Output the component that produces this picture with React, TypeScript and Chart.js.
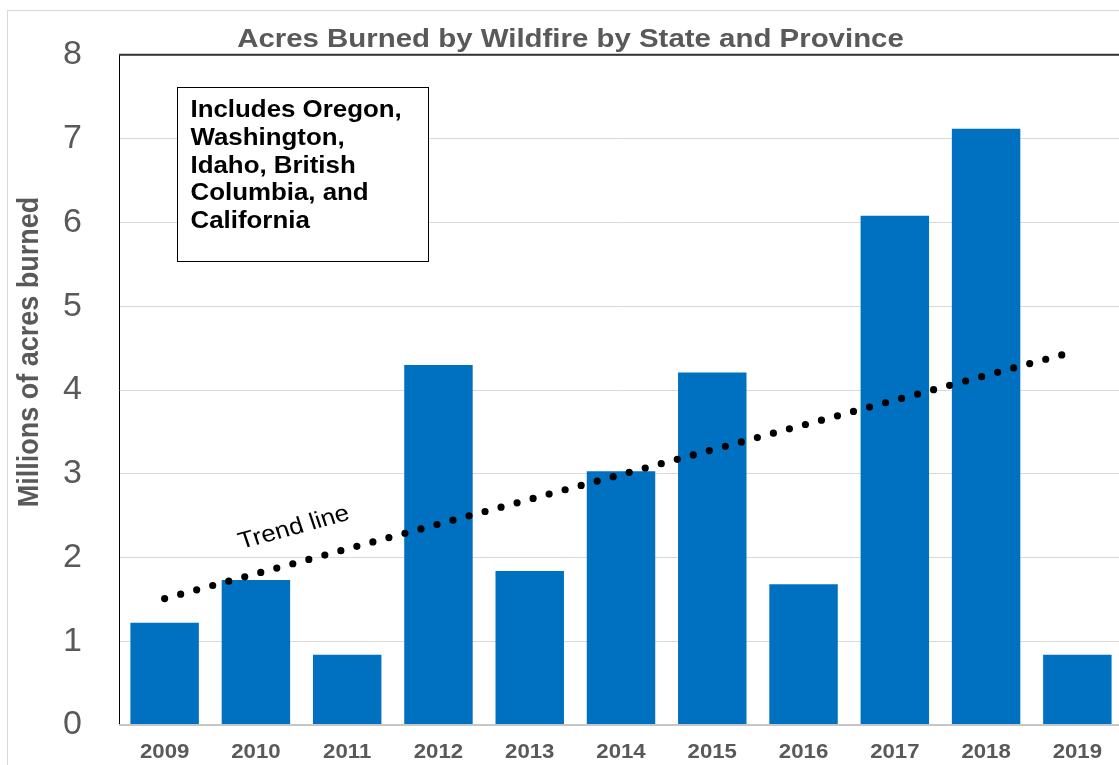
import React, { useEffect, useRef } from "react";
import { Chart, registerables } from "chart.js";

Chart.register(...registerables);

const categories = ["2009", "2010", "2011", "2012", "2013", "2014", "2015", "2016", "2017", "2018", "2019"];
const acresBurned = [1.22, 1.73, 0.84, 4.3, 1.84, 3.03, 4.21, 1.68, 6.08, 7.12, 0.84];
const trendLine = [1.51, null, null, null, null, null, null, null, null, null, 4.47];
const boxLines = ["Includes Oregon,", "Washington,", "Idaho, British", "Columbia, and", "California"];
const chartTitle = "Acres Burned by Wildfire by State and Province";
const yTitle = "Millions of acres burned";
const trendLabel = "Trend line";

const FONT = "'Liberation Sans', Arial, sans-serif";
const STRETCH = 1.11;

function stretchedText(ctx: CanvasRenderingContext2D, text: string, x: number, y: number, font: string, color: string, align: CanvasTextAlign) {
  ctx.save();
  ctx.font = font;
  ctx.fillStyle = color;
  ctx.textAlign = align;
  ctx.textBaseline = "alphabetic";
  ctx.translate(x, y);
  ctx.scale(STRETCH, 1);
  ctx.fillText(text, 0, 0);
  ctx.restore();
}

const decorPlugin = {
  id: "decor",
  afterDatasetsDraw(chart: any) {
    const ctx: CanvasRenderingContext2D = chart.ctx;
    const area = chart.chartArea;
    // x axis line
    ctx.save();
    ctx.strokeStyle = "#c6c6c6";
    ctx.lineWidth = 2;
    ctx.beginPath();
    ctx.moveTo(area.left, area.bottom);
    ctx.lineTo(chart.width, area.bottom);
    ctx.stroke();
    ctx.restore();
  },
  afterDraw(chart: any) {
    const ctx: CanvasRenderingContext2D = chart.ctx;
    const area = chart.chartArea;
    const xs = chart.scales.x;
    const ys = chart.scales.y;

    ctx.save();
    // outer border
    ctx.strokeStyle = "#d9d9d9";
    ctx.lineWidth = 1;
    ctx.strokeRect(7.5, 10.5, 1300, 900);

    // plot area top border
    ctx.strokeStyle = "#333333";
    ctx.lineWidth = 2;
    ctx.beginPath();
    ctx.moveTo(area.left, area.top - 0.3);
    ctx.lineTo(chart.width, area.top - 0.3);
    ctx.stroke();
    ctx.restore();

    // title
    stretchedText(ctx, chartTitle, 570.5, 47, `bold 26.5px ${FONT}`, "#595959", "center");

    // y axis title
    ctx.save();
    ctx.font = `bold 27px ${FONT}`;
    ctx.fillStyle = "#595959";
    ctx.textAlign = "center";
    ctx.textBaseline = "middle";
    ctx.translate(30, 352);
    ctx.scale(STRETCH, 1);
    ctx.rotate(-Math.PI / 2);
    ctx.fillText(yTitle, 0, 0);
    ctx.restore();

    // x labels
    categories.forEach((c, i) => {
      stretchedText(ctx, c, xs.getPixelForTick(i), 757.5, `bold 20px ${FONT}`, "#595959", "center");
    });

    // annotation box
    ctx.save();
    ctx.fillStyle = "#ffffff";
    ctx.fillRect(177.5, 87.5, 251, 174);
    ctx.strokeStyle = "#000000";
    ctx.lineWidth = 1;
    ctx.strokeRect(177.5, 87.5, 251, 174);
    ctx.restore();
    boxLines.forEach((line, i) => {
      stretchedText(ctx, line, 190.5, 117 + i * 27.8, `bold 23.3px ${FONT}`, "#000000", "left");
    });

    // trend label
    const i0 = 0;
    const i1 = trendLine.length - 1;
    const x0 = xs.getPixelForValue(i0);
    const x1 = xs.getPixelForValue(i1);
    const y0 = ys.getPixelForValue(trendLine[i0] as number);
    const y1 = ys.getPixelForValue(trendLine[i1] as number);
    const tanScreen = (y0 - y1) / (x1 - x0);
    const ang = Math.atan(tanScreen * STRETCH);
    ctx.save();
    ctx.font = `23.4px ${FONT}`;
    ctx.fillStyle = "#000000";
    ctx.textAlign = "center";
    ctx.textBaseline = "middle";
    ctx.translate(294, 528);
    ctx.scale(STRETCH, 1);
    ctx.rotate(-ang);
    ctx.fillText(trendLabel, 0, 0);
    ctx.restore();
  },
};

export default function App() {
  const canvasRef = useRef<HTMLCanvasElement | null>(null);

  useEffect(() => {
    const canvas = canvasRef.current;
    if (!canvas) return;
    const chart = new Chart(canvas, {
      type: "bar",
      data: {
        labels: categories,
        datasets: [
          {
            type: "line",
            data: trendLine as any,
            spanGaps: true,
            borderColor: "#000000",
            borderWidth: 7.2,
            borderDash: [0, 16.6],
            borderCapStyle: "round",
            pointRadius: 0,
            fill: false,
            order: 0,
          } as any,
          {
            type: "bar",
            data: acresBurned,
            backgroundColor: "#0070C0",
            borderWidth: 0,
            barPercentage: 0.75,
            categoryPercentage: 1,
            order: 1,
          },
        ],
      },
      options: {
        responsive: false,
        animation: false,
        devicePixelRatio: 1,
        layout: { autoPadding: false, padding: { left: 0, top: 55, right: 12, bottom: 40 } },
        plugins: {
          legend: { display: false },
          tooltip: { enabled: false },
          title: { display: false },
        },
        scales: {
          x: {
            type: "category",
            display: false,
          },
          y: {
            min: 0,
            max: 8,
            ticks: {
              stepSize: 1,
              padding: 37,
              color: "#595959",
              font: { family: FONT, size: 34, lineHeight: 0.1 },
            },
            grid: { color: "#d9d9d9", lineWidth: 1, drawTicks: false },
            border: { display: true, color: "#000000", width: 1 },
            afterFit(scale: any) {
              scale.width = 119;
            },
          },
        },
      },
      plugins: [decorPlugin],
    });
    return () => chart.destroy();
  }, []);

  return (
    <div style={{ position: "fixed", left: 0, top: 0, width: 1119, height: 765, overflow: "hidden", background: "#ffffff" }}>
      <canvas ref={canvasRef} width={1135} height={765} style={{ display: "block", width: 1135, height: 765 }} />
    </div>
  );
}
